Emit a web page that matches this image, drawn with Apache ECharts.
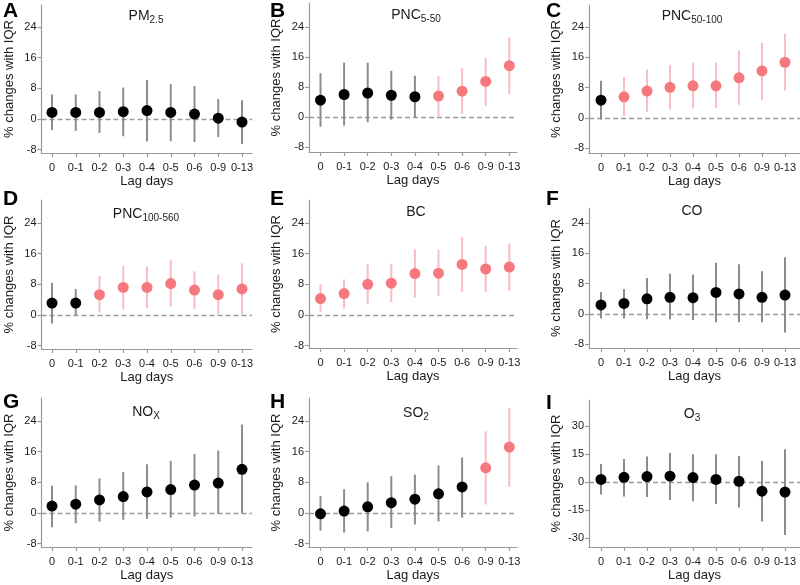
<!DOCTYPE html>
<html><head><meta charset="utf-8">
<script src="https://cdn.jsdelivr.net/npm/echarts@6/dist/echarts.min.js"></script>
<style>html,body{margin:0;padding:0;background:#fff}#c{width:800px;height:585px}</style>
</head><body><div id="c"></div>
<script>
// ---------------- DATA ----------------
const categories = ['0', '0-1', '0-2', '0-3', '0-4', '0-5', '0-6', '0-9', '0-13'];
const yTicksStd = [-8, 0, 8, 16, 24];
const yTicksO3 = [-30, -15, 0, 15, 30];

const pm25Est  = [1.7, 1.7, 1.7, 1.9, 2.2, 1.7, 1.3, 0.2, -0.8];
const pm25Low  = [-2.9, -3.1, -3.6, -4.5, -5.9, -5.8, -6.0, -4.7, -6.5];
const pm25High = [6.4, 6.4, 7.3, 8.2, 10.2, 9.1, 8.6, 5.2, 4.9];
const pm25Sig  = [0, 0, 0, 0, 0, 0, 0, 0, 0];

const pnc550Est  = [4.5, 6.0, 6.4, 5.8, 5.4, 5.6, 6.9, 9.5, 13.7];
const pnc550Low  = [-2.6, -2.3, -1.4, -0.7, 0.0, 0.2, 0.8, 3.0, 6.1];
const pnc550High = [11.7, 14.5, 14.5, 12.3, 11.0, 11.0, 13.0, 15.8, 21.2];
const pnc550Sig  = [0, 0, 0, 0, 0, 1, 1, 1, 1];

const pnc50100Est  = [4.7, 5.6, 7.1, 8.1, 8.5, 8.5, 10.6, 12.4, 14.7];
const pnc50100Low  = [-0.4, 0.5, 1.6, 2.3, 2.6, 2.7, 3.5, 4.8, 7.3];
const pnc50100High = [9.8, 10.8, 12.7, 13.9, 14.6, 14.6, 17.8, 19.8, 22.2];
const pnc50100Sig  = [0, 1, 1, 1, 1, 1, 1, 1, 1];

const pnc100560Est  = [3.1, 3.1, 5.3, 7.2, 7.2, 8.2, 6.5, 5.3, 6.8];
const pnc100560Low  = [-2.2, -0.2, 0.7, 1.5, 1.8, 2.2, 1.6, 0.3, 0.2];
const pnc100560High = [8.4, 6.8, 10.2, 12.9, 12.6, 14.4, 11.4, 10.5, 13.5];
const pnc100560Sig  = [0, 0, 1, 1, 1, 1, 1, 1, 1];

const bcEst  = [4.3, 5.6, 8.0, 8.3, 10.8, 10.9, 13.2, 12.0, 12.5];
const bcLow  = [0.9, 1.7, 2.8, 3.4, 4.5, 5.0, 6.1, 6.0, 6.3];
const bcHigh = [8.0, 9.3, 13.2, 13.4, 17.1, 17.0, 20.3, 18.0, 18.7];
const bcSig  = [1, 1, 1, 1, 1, 1, 1, 1, 1];

const coEst  = [2.4, 2.8, 4.0, 4.4, 4.3, 5.7, 5.3, 4.4, 5.0];
const coLow  = [-1.2, -1.2, -1.4, -1.4, -1.6, -2.2, -2.2, -2.2, -4.9];
const coHigh = [5.8, 6.6, 9.5, 10.6, 10.4, 13.5, 13.1, 11.3, 15.0];
const coSig  = [0, 0, 0, 0, 0, 0, 0, 0, 0];

const noxEst  = [1.8, 2.3, 3.4, 4.3, 5.5, 6.1, 7.3, 7.8, 11.4];
const noxLow  = [-3.7, -2.7, -2.2, -1.8, -1.5, -1.2, -0.9, -0.2, 0.0];
const noxHigh = [7.1, 7.2, 9.0, 10.7, 12.7, 13.6, 15.4, 16.3, 23.1];
const noxSig  = [0, 0, 0, 0, 0, 0, 0, 0, 0];

const so2Est  = [-0.2, 0.5, 1.6, 2.7, 3.6, 5.0, 6.8, 11.8, 17.2];
const so2Low  = [-4.6, -5.1, -4.8, -3.9, -3.0, -2.2, -1.2, 2.2, 6.8];
const so2High = [4.4, 6.2, 8.0, 9.6, 10.0, 12.4, 14.5, 21.3, 27.4];
const so2Sig  = [0, 0, 0, 0, 0, 0, 0, 1, 1];

const o3Est  = [1.4, 2.5, 2.9, 3.1, 2.4, 1.4, 0.4, -4.9, -5.4];
const o3Low  = [-6.7, -7.8, -8.1, -9.6, -10.3, -11.8, -13.6, -21.2, -28.4];
const o3High = [9.6, 12.3, 13.6, 15.7, 14.8, 14.8, 13.9, 11.4, 17.5];
const o3Sig  = [0, 0, 0, 0, 0, 0, 0, 0, 0];

// ---------------- PANELS ----------------
const panels = [
  { letter: 'A', title: '{m|PM}{s|2.5}',       est: pm25Est,      low: pm25Low,      high: pm25High,      sig: pm25Sig,      ticks: yTicksStd },
  { letter: 'B', title: '{m|PNC}{s|5-50}',     est: pnc550Est,    low: pnc550Low,    high: pnc550High,    sig: pnc550Sig,    ticks: yTicksStd },
  { letter: 'C', title: '{m|PNC}{s|50-100}',   est: pnc50100Est,  low: pnc50100Low,  high: pnc50100High,  sig: pnc50100Sig,  ticks: yTicksStd },
  { letter: 'D', title: '{m|PNC}{s|100-560}',  est: pnc100560Est, low: pnc100560Low, high: pnc100560High, sig: pnc100560Sig, ticks: yTicksStd },
  { letter: 'E', title: '{m|BC}',              est: bcEst,        low: bcLow,        high: bcHigh,        sig: bcSig,        ticks: yTicksStd },
  { letter: 'F', title: '{m|CO}',              est: coEst,        low: coLow,        high: coHigh,        sig: coSig,        ticks: yTicksStd },
  { letter: 'G', title: '{m|NO}{s|X}',         est: noxEst,       low: noxLow,       high: noxHigh,       sig: noxSig,       ticks: yTicksStd },
  { letter: 'H', title: '{m|SO}{s|2}',         est: so2Est,       low: so2Low,       high: so2High,       sig: so2Sig,       ticks: yTicksStd },
  { letter: 'I', title: '{m|O}{s|3}',          est: o3Est,        low: o3Low,        high: o3High,        sig: o3Sig,        ticks: yTicksO3 }
];

// ---------------- LAYOUT (pixels) ----------------
const colLayout = [
  { axisX: 41.5, first: 52,    last: 242,   end: 252, titleX: 146, letterX: 3 },
  { axisX: 309,  first: 320.5, last: 509.3, end: 517, titleX: 416, letterX: 270 },
  { axisX: 589,  first: 601,   last: 785,   end: 800, titleX: 692, letterX: 546 }
];
// [top, zeroY, refTickY, refTickValue, bottom]
const rowLayout = [
  [5, 119, 27, 24, 153], [3, 117, 27, 24, 152], [5, 118, 27, 24, 153],
  [200, 315, 223, 24, 349], [200, 315, 223, 24, 348], [208, 314, 223, 24, 348],
  [398, 513, 421, 24, 547], [398, 513, 421, 24, 547], [400, 482, 426, 30, 547]
];
const titleY = [16, 15, 16, 214, 212, 211, 412, 413, 414];
const letterY = [11, 11, 11, 199.5, 199.5, 199.5, 402.5, 402.5, 403];

const BLACK = '#000000', GRAY_BAR = '#8c8c8c', PINK = '#f6787e', PINK_BAR = '#f9bcc0';
const AXIS_COLOR = '#999999', TEXT_COLOR = '#1a1a1a';
const FONT = '"Liberation Sans", Arial, Helvetica, sans-serif';

const grids = [], xAxes = [], yAxes = [], series = [], titles = [];
const catIdx = categories.map((c, i) => i);

panels.forEach((p, k) => {
  const col = colLayout[k % 3];
  const [top, zeroY, refY, refV, bottom] = rowLayout[k];
  const sp = (col.last - col.first) / (categories.length - 1);
  const ppu = (zeroY - refY) / refV;
  grids.push({ left: col.axisX, top: top, width: col.end - col.axisX, height: bottom - top, containLabel: false, outerBoundsMode: 'none' });
  xAxes.push({
    type: 'value', gridIndex: k,
    min: (col.axisX - col.first) / sp, max: (col.end - col.first) / sp,
    axisLine: { show: true, onZero: false, lineStyle: { color: AXIS_COLOR, width: 1.2 } },
    axisTick: { show: true, customValues: catIdx, length: 4, lineStyle: { color: AXIS_COLOR, width: 1.2 } },
    axisLabel: { customValues: catIdx, formatter: v => categories[Math.round(v)], fontSize: 11, color: TEXT_COLOR, margin: 9, fontFamily: FONT },
    splitLine: { show: false },
    name: 'Lag days', nameLocation: 'middle', nameGap: 22,
    nameTextStyle: { fontSize: 13, color: TEXT_COLOR, fontFamily: FONT }
  });
  yAxes.push({
    type: 'value', gridIndex: k,
    min: (zeroY - bottom) / ppu, max: (zeroY - top) / ppu,
    axisLine: { show: true, onZero: false, lineStyle: { color: AXIS_COLOR, width: 1.2 } },
    axisTick: { show: true, customValues: p.ticks, length: 4, lineStyle: { color: AXIS_COLOR, width: 1.2 } },
    axisLabel: { customValues: p.ticks, fontSize: 11, color: TEXT_COLOR, margin: 5, fontFamily: FONT },
    splitLine: { show: false },
    name: '% changes with IQR', nameLocation: 'middle', nameGap: 26,
    nameTextStyle: { fontSize: 13, color: TEXT_COLOR, fontFamily: FONT }
  });
  // zero reference line (under everything)
  series.push({
    type: 'line', xAxisIndex: k, yAxisIndex: k, z: 1, data: [], silent: true,
    markLine: {
      z: 1, silent: true, symbol: 'none', animation: false,
      label: { show: false },
      lineStyle: { type: [5, 3], color: '#9a9a9a', width: 1.4 },
      emphasis: { disabled: true },
      data: [{ yAxis: 0 }]
    }
  });
  series.push({
    type: 'custom', xAxisIndex: k, yAxisIndex: k, z: 2, silent: true,
    data: categories.map((c, i) => [i, p.low[i], p.high[i], p.sig[i]]),
    renderItem: function (params, api) {
      const a = api.coord([api.value(0), api.value(1)]);
      const b = api.coord([api.value(0), api.value(2)]);
      return {
        type: 'line',
        shape: { x1: a[0], y1: a[1], x2: b[0], y2: b[1] },
        style: { stroke: api.value(3) ? PINK_BAR : GRAY_BAR, lineWidth: 2 }
      };
    }
  });
  series.push({
    type: 'scatter', xAxisIndex: k, yAxisIndex: k, z: 3, symbolSize: 11, silent: true,
    data: categories.map((c, i) => ({ value: [i, p.est[i]], itemStyle: { color: p.sig[i] ? PINK : BLACK, opacity: 1 } }))
  });
  titles.push({
    text: p.letter, left: col.letterX, top: letterY[k], padding: 0,
    textAlign: 'left', textVerticalAlign: 'middle',
    textStyle: { fontSize: 21, fontWeight: 'bold', color: '#000', fontFamily: FONT }
  });
  titles.push({
    text: p.title, left: col.titleX, top: titleY[k], padding: 0,
    textAlign: 'center', textVerticalAlign: 'middle',
    textStyle: {
      fontFamily: FONT, fontWeight: 'normal', fontSize: 14,
      rich: {
        m: { fontSize: 14, fontWeight: 'normal', color: TEXT_COLOR, fontFamily: FONT, lineHeight: 18, verticalAlign: 'middle' },
        s: { fontSize: 10, fontWeight: 'normal', color: TEXT_COLOR, fontFamily: FONT, lineHeight: 10, verticalAlign: 'bottom' }
      }
    }
  });
});

const chart = echarts.init(document.getElementById('c'), null, { renderer: 'canvas' });
chart.setOption({
  animation: false,
  backgroundColor: '#ffffff',
  textStyle: { fontFamily: FONT },
  title: titles,
  grid: grids,
  xAxis: xAxes,
  yAxis: yAxes,
  series: series
});
</script>
</body></html>
